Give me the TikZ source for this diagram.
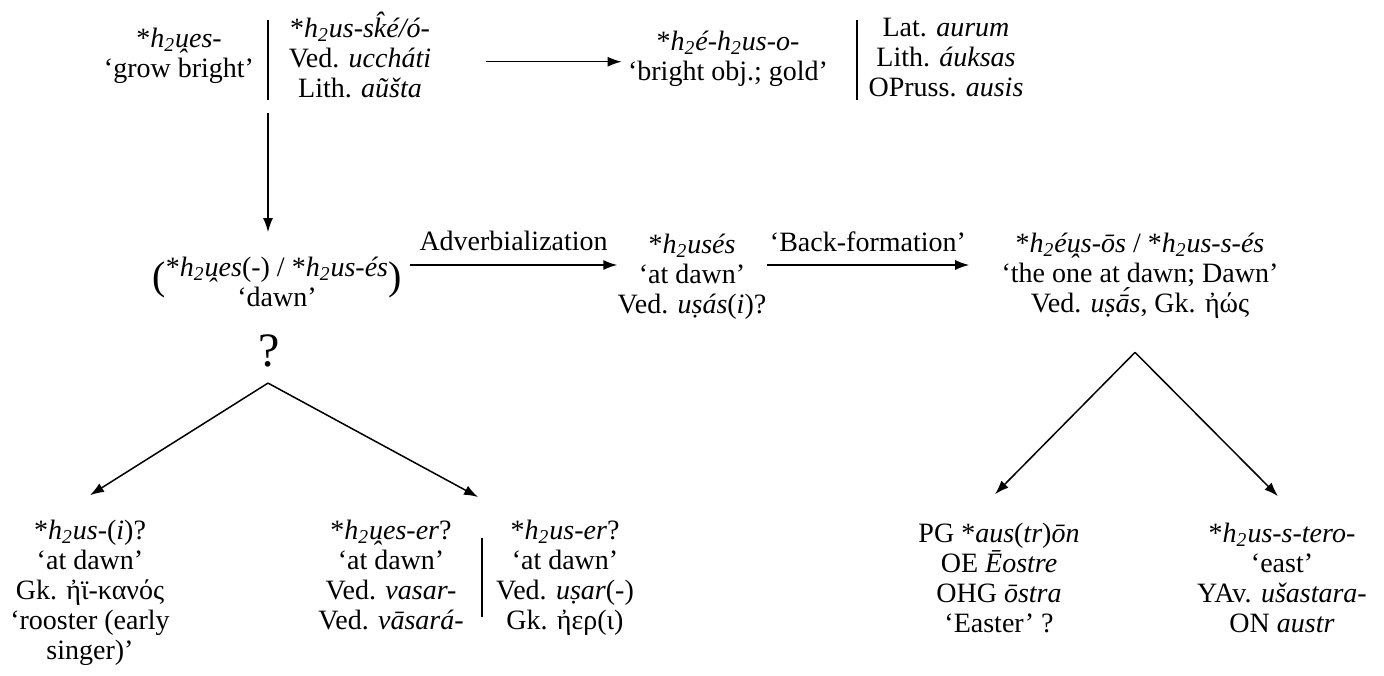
\documentclass[tikz,border=0pt]{standalone}
\usepackage{fontspec}
\setmainfont{Liberation Serif}
\usetikzlibrary{calc,positioning,arrows.meta}
\newcommand{\htwo}{h\textsubscript{2}}
\newcommand{\uarc}{\ooalign{u\cr\hidewidth\smash{\raisebox{-0.78em}{\char"02C6}}\hidewidth\cr}}
\newcommand{\bigparen}[1]{\smash{\raisebox{-6.5pt}{\fontsize{20}{20}\selectfont #1}}}

\begin{document}
\begin{tikzpicture}[x=0.5pt, y=-0.5pt, font=\fontsize{14}{15}\selectfont,
    lbl/.style={align=center, inner sep=0pt, anchor=base},
    arr/.style={-{Latex[length=7pt,width=5pt]}, line width=0.75pt},
    bar/.style={line width=1pt}]
  \useasboundingbox (0,0) rectangle (1384,675);
  % top row (base = last line)
  \node[lbl] (grow) at (179,77) {*\textit{\htwo\uarc es-}\\‘grow bright’};
  \node[lbl] (ske) at (360,97) {*\textit{\htwo us-s\^{k}é/ó-}\\Ved. \textit{uccháti}\\Lith. \textit{aũšta}};
  \node[lbl] (gold) at (728,80) {*\textit{\htwo é-\htwo us-o-}\\‘bright obj.; gold’};
  \node[lbl] (aurum) at (946,96) {Lat. \textit{aurum}\\Lith. \textit{áuksas}\\OPruss. \textit{ausis}};
  \coordinate (bar1) at (268,20);
  \coordinate (bar2) at (857,20);
  \draw[bar] (bar1) -- ++(0,80) coordinate (bar1b);
  \draw[bar] (bar2) -- ++(0,80);
  \coordinate (sk) at ([yshift=-3.5pt]ske.east);
  \draw[arr, shorten <=27pt] (sk) -- ($(sk -| gold.west)+(-6,0)$);
  % middle row
  \node[lbl] (dawn) at (277,306) {\bigparen{(}*\textit{\htwo\uarc es}(-) / *\textit{\htwo us-és}\bigparen{)}\\‘dawn’};
  \node[lbl, font=\fontsize{24}{24}\selectfont] (q) at (269,366) {?};
  \node[lbl] (uses) at (692,313) {*\textit{\htwo usés}\\‘at dawn’\\Ved. \textit{uṣás}(\textit{i})?};
  \node[lbl] (eos) at (1140,312) {*\textit{\htwo é\uarc s-ōs} / *\textit{\htwo us-s-és}\\‘the one at dawn; Dawn’\\Ved. \textit{uṣā́s}, Gk. ἠώς};
  \draw[arr, shorten <=6.5pt, shorten >=12pt] (bar1b) -- (bar1b |- dawn.north);
  \coordinate (adv) at ([yshift=24pt]uses.base west);
  \draw[arr] ($(adv -| dawn.east)+(8,0)$) -- node[lbl, yshift=7.5pt] {Adverbialization} (adv);
  \coordinate (bf) at ([yshift=24pt]uses.base east);
  \draw[arr] (bf) -- node[lbl, yshift=7pt] {‘Back-formation’} ($(bf -| eos.west)+(-32,0)$);
  % bottom row
  \node[lbl] (hus) at (90,659) {*\textit{\htwo us}-(\textit{i})?\\‘at dawn’\\Gk. ἠϊ-κανός\\‘rooster (early\\singer)’};
  \node[lbl] (hueser) at (391,629) {*\textit{\htwo\uarc es-er}?\\‘at dawn’\\Ved. \textit{vasar-}\\Ved. \textit{vāsará-}};
  \node[lbl] (huser) at (565,629) {*\textit{\htwo us-er}?\\‘at dawn’\\Ved. \textit{uṣar}(-)\\Gk. ἠερ(ι)};
  \node[lbl] (austron) at (999,632) {PG *\textit{aus}(\textit{tr})\textit{ōn}\\OE \textit{Ēostre}\\OHG \textit{ōstra}\\‘Easter’ ?};
  \node[lbl] (tero) at (1282,632) {*\textit{\htwo us-s-tero-}\\‘east’\\YAv. \textit{ušastara-}\\ON \textit{austr}};
  \coordinate (bar3) at (482,538);
  \draw[bar] (bar3) -- ++(0,79);
  % branches
  \coordinate (qa) at ($(q.south)+(-1,16)$);
  \coordinate (ga) at ($(eos.south)+(-5,34)$);
  \coordinate (ht) at ($(hus.north)+(0,-24)$);
  \coordinate (it) at ($(bar3)+(-4,-41)$);
  \coordinate (kt) at ($(austron.north)+(-4,-28)$);
  \coordinate (lt) at ($(tero.north)+(-4,-26)$);
  \foreach \a/\b in {qa/ht,qa/it,ga/kt,ga/lt}{\draw[arr] (\a) -- (\b);}
\end{tikzpicture}
\end{document}
